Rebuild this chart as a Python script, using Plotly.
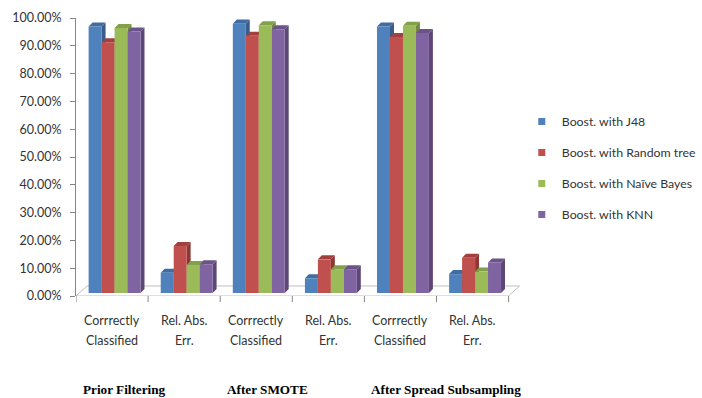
import plotly.graph_objects as go

# Categories along the x axis and the three experiment groups
categories = ["Corrrectly\nClassified", "Rel. Abs.\nErr.",
              "Corrrectly\nClassified", "Rel. Abs.\nErr.",
              "Corrrectly\nClassified", "Rel. Abs.\nErr."]
groups = ["Prior Filtering", "After SMOTE", "After Spread Subsampling"]

# Series values (percent)
series_names = ["Boost. with J48", "Boost. with Random tree",
                "Boost. with Naïve Bayes", "Boost. with KNN"]
j48 = [95.9, 7.3, 96.9, 5.3, 95.9, 6.8]
random_tree = [90.2, 16.9, 92.5, 12.1, 92.1, 12.7]
naive_bayes = [95.3, 10.1, 96.3, 8.5, 96.1, 7.7]
knn = [94.1, 10.3, 94.9, 8.5, 93.5, 11.0]

y_ticks = [0, 10, 20, 30, 40, 50, 60, 70, 80, 90, 100]

front_colors = ["#4F81BD", "#C0504D", "#9BBB59", "#8064A2"]
side_colors = ["#385D8A", "#8C3836", "#71893F", "#5C4776"]
top_colors = ["#3E6CA3", "#A33F3C", "#82A04A", "#6A5389"]

all_series = [j48, random_tree, naive_bayes, knn]

# Pseudo-3D geometry (data units)
bar_w = 0.18          # width of one bar's front face
depth_dx = 0.055      # horizontal depth of a bar
depth_dy = 1.45       # vertical depth of a bar
floor_dx = 0.153      # floor depth
floor_dy = 3.6
group_shift = 0.035
bar_base = (floor_dy - depth_dy) / 2

fig = go.Figure()
shapes = []

# floor of the plot
shapes.append(dict(
    type="path", xref="x", yref="y", layer="below",
    path=f"M -0.5 0 L 5.5 0 L {5.5 + floor_dx} {floor_dy} L {-0.5 + floor_dx} {floor_dy} Z",
    line=dict(color="#BFBFBF", width=1), fillcolor="rgba(255,255,255,0)"))

n = len(categories)
for j, (name, vals) in enumerate(zip(series_names, all_series)):
    xs = [i + group_shift + (j - 1.5) * bar_w for i in range(n)]
    fig.add_trace(go.Bar(
        x=xs, y=vals, base=[bar_base] * n, width=bar_w, name=name,
        marker=dict(color=front_colors[j], line=dict(width=0)),
        showlegend=False, hovertemplate=name + ": %{y:.2f}%<extra></extra>"))
    # side and top faces
    for x, v in zip(xs, vals):
        xr = x + bar_w / 2
        xl = x - bar_w / 2
        top = bar_base + v
        shapes.append(dict(
            type="path", xref="x", yref="y", layer="below",
            path=(f"M {xr} {bar_base} L {xr + depth_dx} {bar_base + depth_dy} "
                  f"L {xr + depth_dx} {top + depth_dy} L {xr} {top} Z"),
            line=dict(width=0), fillcolor=side_colors[j]))
        shapes.append(dict(
            type="path", xref="x", yref="y", layer="below",
            path=(f"M {xl} {top} L {xl + depth_dx} {top + depth_dy} "
                  f"L {xr + depth_dx} {top + depth_dy} L {xr} {top} Z"),
            line=dict(width=0), fillcolor=top_colors[j]))
    # legend entry
    fig.add_trace(go.Scatter(
        x=[None], y=[None], mode="markers", name=name,
        marker=dict(symbol="square", size=7, color=front_colors[j]),
        legendgroup=name, showlegend=True))

# x-axis tick marks between categories
for b in range(n + 1):
    shapes.append(dict(
        type="line", xref="x", yref="paper", x0=b - 0.5, x1=b - 0.5,
        y0=0, y1=-0.022, line=dict(color="#868686", width=1)))

annotations = []
label_font = dict(family="Lato, Noto Sans, sans-serif", size=12.5, color="#333333")
for i, cat in enumerate(categories):
    for k, line in enumerate(cat.split("\n")):
        annotations.append(dict(
            x=i, y=0, xref="x", yref="paper", text=line, showarrow=False,
            yanchor="middle", xanchor="center", yshift=-24 - 20 * k,
            font=label_font))

for g, gname in enumerate(groups):
    annotations.append(dict(
        x=2 * g - 0.43, y=0, xref="x", yref="paper", text=f"<b>{gname}</b>",
        showarrow=False, xanchor="left", yanchor="middle", yshift=-93,
        font=dict(family="Liberation Serif, Times New Roman, serif",
                  size=13.2, color="#000000")))

fig.update_layout(
    width=702, height=398,
    margin=dict(l=76, r=182, t=18, b=102, autoexpand=False),
    paper_bgcolor="white", plot_bgcolor="white",
    barmode="overlay",
    shapes=shapes, annotations=annotations,
    xaxis=dict(range=[-0.5, 5.5 + floor_dx + 0.005], showline=False,
               showgrid=False, zeroline=False, showticklabels=False,
               ticks="", fixedrange=True),
    yaxis=dict(range=[0, 100], tickvals=y_ticks,
               ticktext=[f"{t:.2f}%" for t in y_ticks],
               showline=True, linecolor="#868686", linewidth=1,
               ticks="outside", ticklen=5, tickcolor="#868686",
               showgrid=False, zeroline=False, ticklabelstandoff=6,
               tickfont=label_font, fixedrange=True),
    legend=dict(x=1.004, y=0.68, xanchor="left", yanchor="top",
                font=dict(family="Lato, Noto Sans, sans-serif", size=12.3,
                          color="#333333"),
                tracegroupgap=12, traceorder="grouped",
                bgcolor="rgba(0,0,0,0)"),
    showlegend=True,
)

fig.write_html("out.html")
